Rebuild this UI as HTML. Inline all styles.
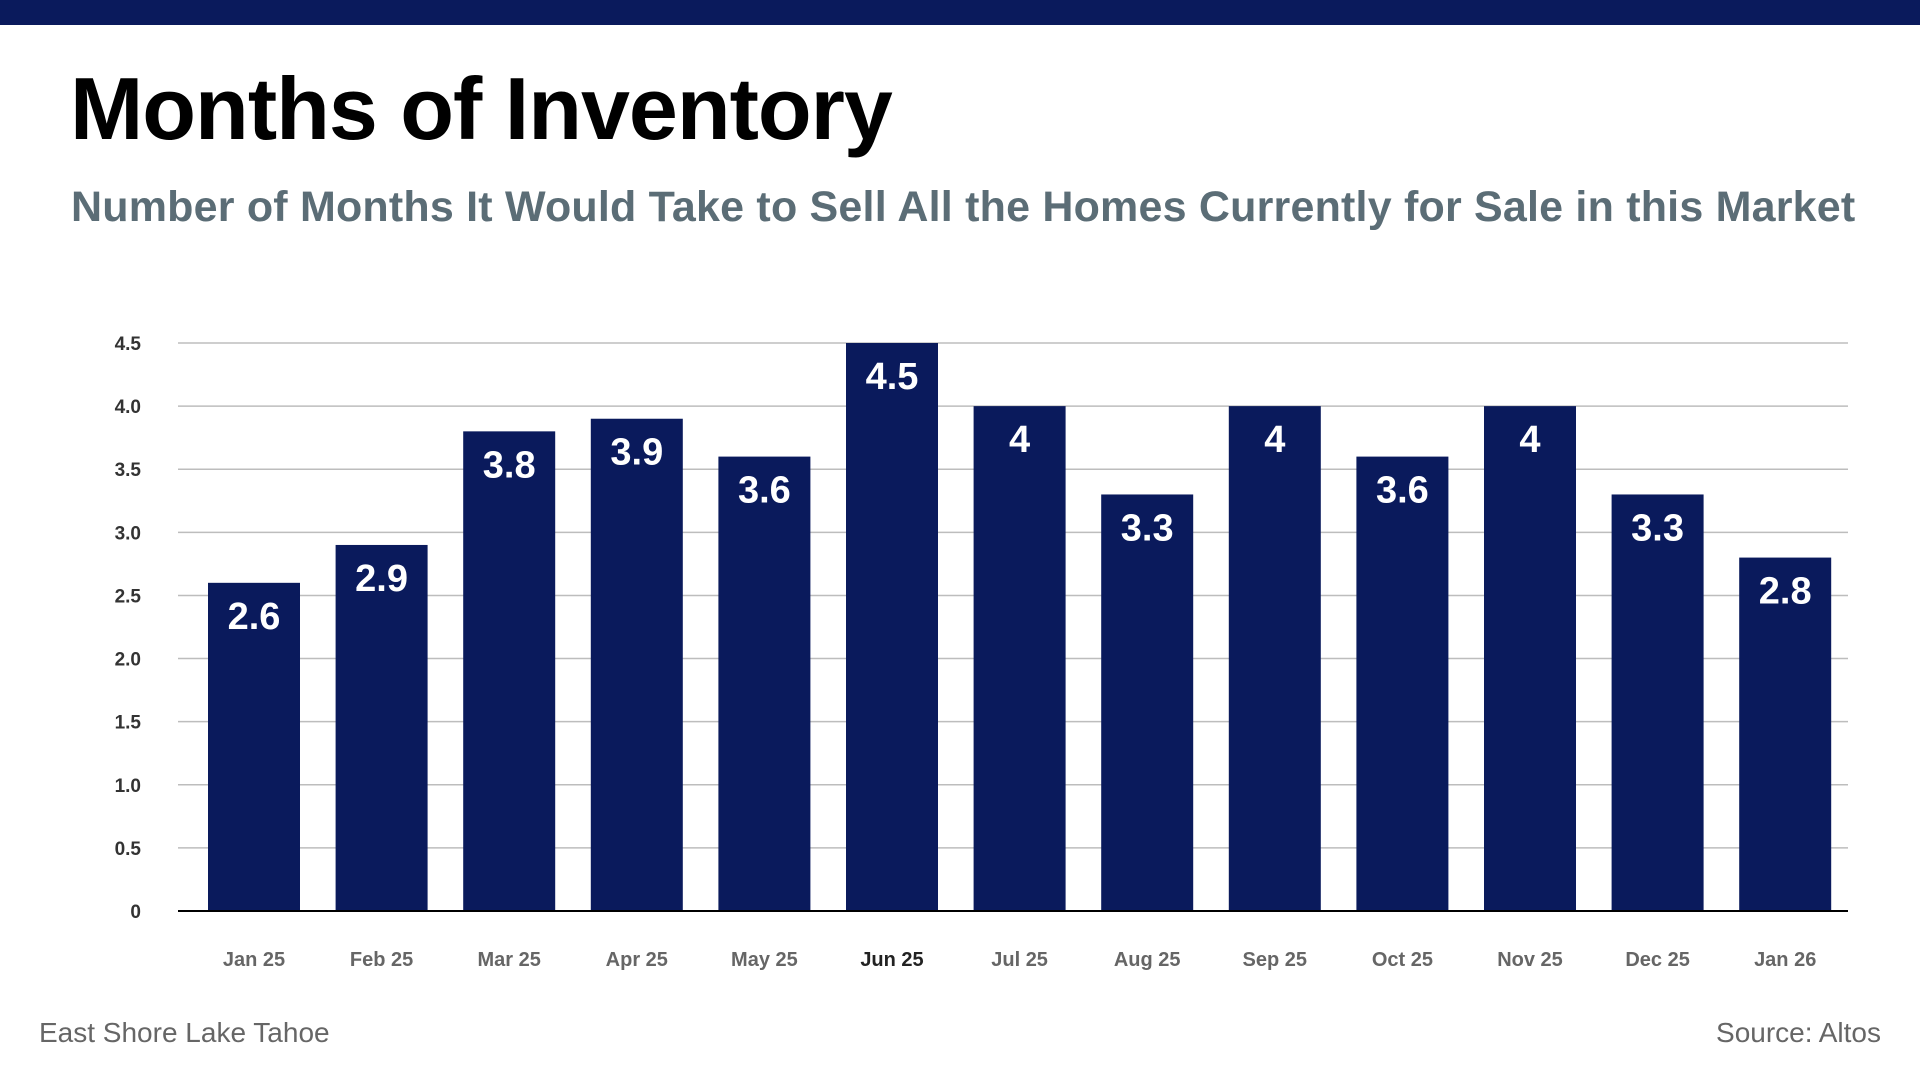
<!DOCTYPE html>
<html><head><meta charset="utf-8"><style>
body{margin:0;width:1920px;height:1080px;background:#fff;overflow:hidden;font-family:"Liberation Sans",sans-serif;position:relative}
.top{position:absolute;left:0;top:0;width:1920px;height:25px;background:#0a1a5c}
h1{position:absolute;left:70px;top:58px;margin:0;font-size:88px;font-weight:bold;color:#000;letter-spacing:-1px}
h2{position:absolute;left:71px;top:183px;margin:0;font-size:43px;font-weight:bold;color:#5b6d76;letter-spacing:0.2px}
.foot{position:absolute;top:1017px;font-size:28px;color:#666}
</style></head><body>
<div class="top"></div>
<h1>Months of Inventory</h1>
<h2>Number of Months It Would Take to Sell All the Homes Currently for Sale in this Market</h2>
<svg id="chart" width="1920" height="1080" style="position:absolute;left:0;top:0"></svg>
<div class="foot" style="left:39px">East Shore Lake Tahoe</div>
<div class="foot" style="right:39px">Source: Altos</div>
<script>
const categories=["Jan 25","Feb 25","Mar 25","Apr 25","May 25","Jun 25","Jul 25","Aug 25","Sep 25","Oct 25","Nov 25","Dec 25","Jan 26"];
const values=[2.6,2.9,3.8,3.9,3.6,4.5,4,3.3,4,3.6,4,3.3,2.8];
const valueLabels=["2.6","2.9","3.8","3.9","3.6","4.5","4","3.3","4","3.6","4","3.3","2.8"];
const yTicks=[0,0.5,1,1.5,2,2.5,3,3.5,4,4.5];
const yTickLabels=["0","0.5","1.0","1.5","2.0","2.5","3.0","3.5","4.0","4.5"];
const NS="http://www.w3.org/2000/svg";
const svg=document.getElementById('chart');
const y0=911,y1=343,yMax=4.5;
const y=v=>y0-(v/yMax)*(y0-y1);
const band=127.6,xStart=190.2,barW=92;
const xc=i=>xStart+band*(i+0.5);
function mk(t,a){const e=document.createElementNS(NS,t);for(const k in a)e.setAttribute(k,a[k]);svg.appendChild(e);return e;}
yTicks.forEach((v,i)=>{
 if(v>0){const l=mk('line',{x1:178,x2:1848,y1:y(v),y2:y(v),stroke:'#bdbdbd','stroke-width':1.5});
 
 }
 const t=mk('text',{x:141,y:y(v)+7,'text-anchor':'end','font-size':19,'font-weight':'bold',fill:'#333'});
 t.textContent=yTickLabels[i];
 
 
});
categories.forEach((c,i)=>{
 const r=mk('rect',{x:xc(i)-barW/2,y:y(values[i]),width:barW,height:y0-y(values[i]),fill:'#0a1a5c'});
 
 
 const t=mk('text',{x:xc(i),y:y(values[i])+46,'text-anchor':'middle','font-size':38,'font-weight':'bold',fill:'#fff'});
 t.textContent=valueLabels[i];
 
 
 const xl=mk('text',{x:xc(i),y:966,'text-anchor':'middle','font-size':20,'font-weight':'bold',fill:c==="Jun 25"?'#222':'#666'});
 xl.textContent=c;
 
 
});
const ax=mk('line',{x1:178,x2:1848,y1:y0,y2:y0,stroke:'#000','stroke-width':2});


</script>
</body></html>
